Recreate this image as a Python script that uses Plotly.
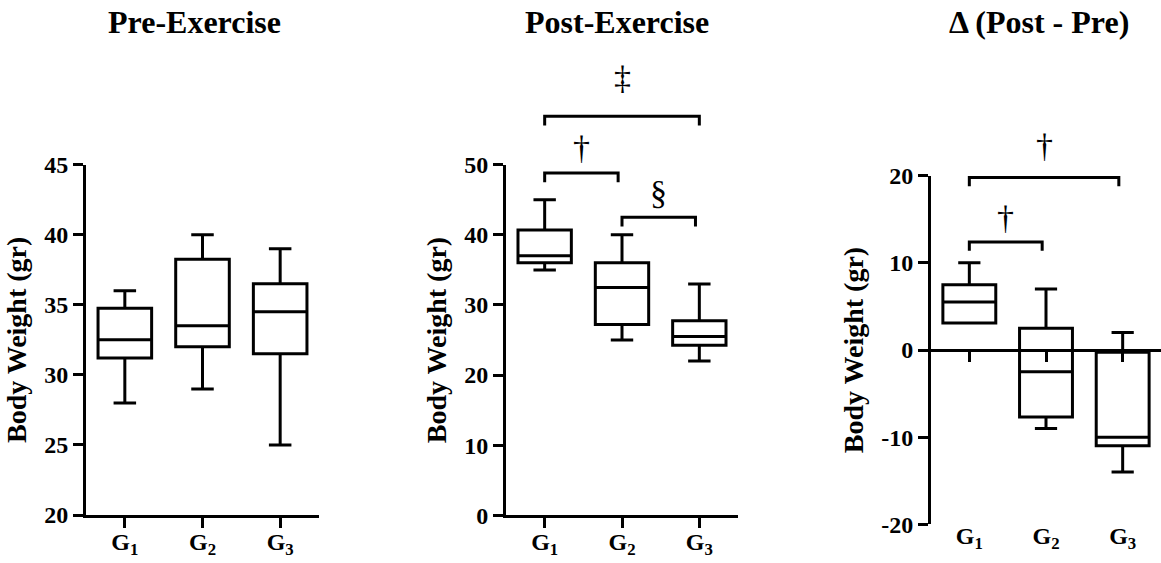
import plotly.graph_objects as go

# ---------------- data ----------------
groups = ["G<sub>1</sub>", "G<sub>2</sub>", "G<sub>3</sub>"]
group_pos = [0, 1, 2]

pre_low = [28, 29, 25]
pre_q1 = [31.2, 32, 31.5]
pre_median = [32.5, 33.5, 34.5]
pre_q3 = [34.75, 38.25, 36.5]
pre_high = [36, 40, 39]

post_low = [35, 25, 22]
post_q1 = [36, 27.2, 24.25]
post_median = [37, 32.5, 25.5]
post_q3 = [40.7, 36, 27.75]
post_high = [45, 40, 33]

delta_low = [3.1, -9, -14]
delta_q1 = [3.1, -7.7, -11]
delta_median = [5.5, -2.5, -10]
delta_q3 = [7.5, 2.5, -0.25]
delta_high = [10, 7, 2]

# y tick values per panel
pre_ticks = [20, 25, 30, 35, 40, 45]
post_ticks = [0, 10, 20, 30, 40, 50]
delta_ticks = [-20, -10, 0, 10, 20]

# significance comparisons: (from group, to group, bracket height, symbol, symbol height)
post_comparisons = [(0, 0.95, 48.8, "†", 52.4), (1, 1.95, 42.5, "§", 46.0), (0, 2, 56.9, "‡", 62.4)]
delta_comparisons = [(0, 0.95, 12.4, "†", 15.2), (0, 1.95, 19.8, "†", 23.5)]

titles = ["Pre-Exercise", "Post-Exercise", "Δ (Post - Pre)"]
y_title = "Body Weight (gr)"

# ---------------- style ----------------
FONT = "Times New Roman, Liberation Serif, serif"
W, H = 1161, 563
LW = 3
LEG = {"post": 1.3, "delta": 1.0}

x_domains = [[86 / W, 319 / W], [506 / W, 738 / W], [931 / W, 1.0]]
y_domains = [[48 / H, 398.3 / H], [47.7 / H, 398.3 / H], [38.7 / H, 387.3 / H]]
y_ranges = [[20, 45], [0, 50], [-20, 20]]
y_tick_sets = [pre_ticks, post_ticks, delta_ticks]
title_x = [194 / W, 617 / W, 1039 / W]

fig = go.Figure()

box_sets = [
    (pre_low, pre_q1, pre_median, pre_q3, pre_high),
    (post_low, post_q1, post_median, post_q3, post_high),
    (delta_low, delta_q1, delta_median, delta_q3, delta_high),
]
for i, (lo, q1, md, q3, hi) in enumerate(box_sets):
    sfx = "" if i == 0 else str(i + 1)
    fig.add_trace(go.Box(
        x=group_pos, lowerfence=lo, q1=q1, median=md, q3=q3, upperfence=hi,
        line=dict(color="black", width=LW), fillcolor="white",
        whiskerwidth=0.42, width=0.69, boxpoints=False, showlegend=False,
        hoverinfo="skip", xaxis="x" + sfx, yaxis="y" + sfx,
    ))

# bracket axes (extended upward, invisible) for panels 2 and 3
def ext_range(rng, dom):
    span = (rng[1] - rng[0]) / (dom[1] - dom[0])
    return [rng[0], rng[0] + span * (1.0 - dom[0])]

ext = {
    "post": dict(axis="y4", x="x2", rng=ext_range(y_ranges[1], y_domains[1]), dom=[y_domains[1][0], 1.0], comps=post_comparisons),
    "delta": dict(axis="y5", x="x3", rng=ext_range(y_ranges[2], y_domains[2]), dom=[y_domains[2][0], 1.0], comps=delta_comparisons),
}

annotations = []
for key, e in ext.items():
    bx, by = [], []
    for a, b, h, sym, sh in e["comps"]:
        bx += [a, a, b, b, None]
        by += [h - LEG[key], h, h, h - LEG[key], None]
        annotations.append(dict(x=(a + b) / 2, y=sh, xref=e["x"], yref=e["axis"], text=sym,
                                showarrow=False, font=dict(family=FONT, size=34, color="black"),
                                xanchor="center", yanchor="middle"))
    fig.add_trace(go.Scatter(x=bx, y=by, mode="lines", line=dict(color="black", width=LW),
                             xaxis=e["x"], yaxis=e["axis"], showlegend=False, hoverinfo="skip"))

# panel titles
for i, t in enumerate(titles):
    annotations.append(dict(x=title_x[i], y=1 - 22 / H, xref="paper", yref="paper",
                            text="<b>%s</b>" % t, showarrow=False,
                            font=dict(family=FONT, size=32, color="black"),
                            xanchor="center", yanchor="middle"))

axis_common = dict(showgrid=False, zeroline=False, linecolor="black", linewidth=LW, automargin=False,
                   ticks="outside", ticklen=10, tickwidth=LW, tickcolor="black")
tickfont = dict(family=FONT, size=24, color="black", weight="bold")

layout = dict(
    template="none",
    width=W, height=H, margin=dict(l=0, r=0, t=0, b=0, pad=0, autoexpand=False),
    paper_bgcolor="white", plot_bgcolor="rgba(0,0,0,0)",
    showlegend=False, annotations=annotations,
)

for i in range(3):
    sfx = "" if i == 0 else str(i + 1)
    xa = dict(axis_common, domain=x_domains[i], range=[-0.5, 2.5], tickmode="array",
              tickvals=group_pos, ticktext=["<b>%s</b>" % g for g in groups],
              tickfont=tickfont, anchor="y" + sfx, ticklabelstandoff=-7)
    if i == 2:
        xa.update(showline=False, ticks="", ticklabelstandoff=-5)
    ya = dict(axis_common, domain=y_domains[i], range=y_ranges[i], tickmode="array",
              tickvals=y_tick_sets[i], ticktext=[str(v) for v in y_tick_sets[i]],
              tickfont=tickfont, anchor="x" + sfx,
              title=dict(text="<b>%s</b>" % y_title, font=dict(family=FONT, size=28, color="black"), standoff=10))
    layout["xaxis" + sfx] = xa
    layout["yaxis" + sfx] = ya

for key, e in ext.items():
    layout["yaxis" + e["axis"][1:]] = dict(domain=e["dom"], range=e["rng"], visible=False, automargin=False,
                                           anchor=e["x"], showgrid=False, zeroline=False)

# zero baseline axis for the delta panel
d3 = y_domains[2]
layout["xaxis6"] = dict(axis_common, overlaying="x3", anchor="free",
                        position=d3[0] + (0 - y_ranges[2][0]) / (y_ranges[2][1] - y_ranges[2][0]) * (d3[1] - d3[0]),
                        range=[-0.5, 2.5], tickmode="array", tickvals=group_pos, showticklabels=False)
fig.add_trace(go.Scatter(x=[None], y=[None], xaxis="x6", yaxis="y3", showlegend=False, hoverinfo="skip"))

fig.update_layout(**layout)
fig.write_html("out.html")
